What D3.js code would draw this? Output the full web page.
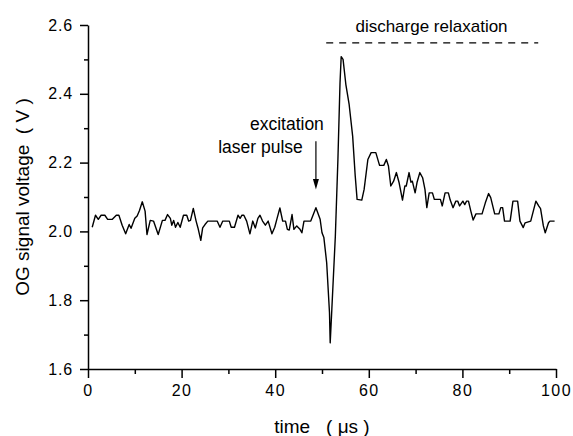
<!DOCTYPE html>
<html>
<head>
<meta charset="utf-8">
<script src="https://cdn.jsdelivr.net/npm/d3@7"></script>
<style>
  body { margin: 0; background: #fff; }
  text { font-family: "Liberation Sans", Arial, sans-serif; fill: #000; }
</style>
</head>
<body>
<div id="draw-area"></div>
<script>
var time = [0.9, 1.6, 2.2, 2.8, 3.6, 4.2, 5.2, 6.05, 6.6, 7.3, 8.05, 8.8, 9.2, 10.0, 10.5, 11.0, 11.6, 12.2, 12.6, 13.3,
	14.0, 15.0, 15.9, 16.45, 17.0, 17.6, 17.9, 18.3, 18.7, 19.2, 19.7, 20.4, 21.1, 21.5, 21.9, 22.5, 23.1, 23.5, 24.1, 24.5,
	25.0, 25.6, 27.6, 28.2, 28.8, 30.2, 30.6, 31.3, 32.05, 32.5, 32.9, 33.3, 33.9, 34.6, 35.2, 35.75, 36.3, 36.75, 37.3, 37.9,
	38.5, 39.3, 39.9, 40.4, 41.0, 41.6, 42.2, 42.6, 43.0, 43.6, 44.0, 44.6, 45.3, 45.7, 46.15, 47.6, 48.7, 49.6, 50.0, 50.4,
	51.0, 51.6, 51.75, 52.1, 52.85, 53.4, 53.85, 54.1, 54.5, 55.1, 55.8, 56.55, 57.1, 57.5, 58.5, 59.0, 59.8, 60.5, 61.5, 62.3,
	63.2, 63.75, 64.2, 64.7, 65.3, 65.9, 66.45, 67.2, 67.7, 68.0, 68.6, 69.0, 69.3, 69.9, 70.3, 70.9, 71.5, 72.0, 72.4, 72.9,
	73.6, 74.0, 75.3, 75.7, 76.3, 77.0, 77.4, 78.0, 78.6, 79.0, 79.4, 80.1, 80.5, 80.9, 81.3, 81.8, 82.3, 82.9, 84.2, 84.9,
	85.6, 86.05, 86.9, 87.8, 88.2, 88.6, 89.0, 90.2, 90.8, 91.8, 92.3, 93.0, 93.4, 94.6, 95.7, 96.3, 96.7, 97.3, 97.7, 98.4,
	98.7, 99.7];
var voltage = [2.012, 2.047, 2.035, 2.047, 2.047, 2.035, 2.035, 2.047, 2.047, 2.018, 1.993, 2.02, 2.009, 2.038, 2.045, 2.061, 2.086, 2.059, 1.991, 2.032,
	2.03, 1.991, 2.032, 2.032, 2.049, 2.038, 2.018, 2.032, 2.012, 2.026, 2.012, 2.047, 2.047, 2.03, 2.032, 2.067, 2.03, 2.01, 1.974, 2.01,
	2.02, 2.03, 2.03, 2.012, 2.03, 2.03, 2.012, 2.012, 2.047, 2.038, 2.047, 2.047, 2.03, 1.993, 2.03, 2.01, 2.038, 2.047, 2.03, 2.018,
	2.03, 1.993, 2.012, 2.038, 2.068, 2.03, 2.03, 2.006, 2.004, 2.049, 2.006, 2.016, 2.006, 1.996, 2.03, 2.03, 2.069, 2.035, 1.996, 1.982,
	1.909, 1.764, 1.676, 1.773, 1.986, 2.209, 2.432, 2.508, 2.5, 2.427, 2.369, 2.277, 2.161, 2.093, 2.091, 2.122, 2.209, 2.229, 2.229, 2.192,
	2.192, 2.209, 2.19, 2.132, 2.146, 2.171, 2.143, 2.091, 2.132, 2.132, 2.171, 2.143, 2.146, 2.112, 2.142, 2.171, 2.156, 2.122, 2.069, 2.112,
	2.112, 2.093, 2.093, 2.074, 2.112, 2.112, 2.091, 2.069, 2.088, 2.088, 2.074, 2.088, 2.078, 2.088, 2.088, 2.059, 2.033, 2.051, 2.051, 2.083,
	2.11, 2.098, 2.051, 2.051, 2.069, 2.069, 2.03, 2.03, 2.088, 2.088, 2.03, 2.011, 2.025, 2.03, 2.088, 2.074, 2.066, 2.016, 1.996, 2.025,
	2.03, 2.03];

var xTicks = [0, 20, 40, 60, 80, 100];
var yTicks = [1.6, 1.8, 2.0, 2.2, 2.4, 2.6];

var svgw = 573, svgh = 436;
var margin = {top: 25, right: 17, bottom: 67, left: 88};
var width = svgw - margin.left - margin.right;
var height = svgh - margin.top - margin.bottom;

var svg = d3.select("#draw-area").append("svg")
		.attr("width", svgw)
		.attr("height", svgh);

var g = svg.append("g")
		.attr("transform", "translate(" + margin.left + "," + margin.top + ")");

var x = d3.scaleLinear().domain([0, 100]).range([0, width]),
	y = d3.scaleLinear().domain([1.6, 2.6]).range([height, 0]);

// minor ticks first, then the labelled ones on top
g.append("g")
	.attr("transform", "translate(0," + height + ")")
	.call(d3.axisBottom(x).tickValues(d3.range(10, 100, 20)).tickSize(5).tickFormat(""))
	.call(function(s){ s.select(".domain").remove(); });
g.append("g")
	.call(d3.axisLeft(y).tickValues(d3.range(1.7, 2.6, 0.2)).tickSize(4).tickFormat(""))
	.call(function(s){ s.select(".domain").remove(); });

var xAxis = g.append("g")
	.attr("transform", "translate(0," + height + ")")
	.call(d3.axisBottom(x).tickValues(xTicks).tickSize(9).tickPadding(7).tickSizeOuter(0).tickFormat(d3.format("d")));
xAxis.selectAll("text")
	.style("font-size", "16px")
	.style("letter-spacing", "1.5px");

var yAxis = g.append("g")
	.call(d3.axisLeft(y).tickValues(yTicks).tickSize(8).tickPadding(7).tickSizeOuter(0).tickFormat(d3.format(".1f")));
yAxis.selectAll("text")
	.style("font-size", "16px")
	.style("letter-spacing", "0.8px");

g.selectAll(".domain, .tick line")
	.attr("stroke", "#000")
	.attr("stroke-width", 1.5);

var valueline = d3.line()
	.x(function(d, i){ return x(time[i]); })
	.y(function(d){ return y(d); });

g.append("path")
	.datum(voltage)
	.attr("d", valueline)
	.style("fill", "none")
	.style("stroke", "#000")
	.style("stroke-width", 1.4)
	.style("stroke-linejoin", "round");

// annotations
g.append("line")
	.attr("x1", x(50.9)).attr("x2", x(96.2))
	.attr("y1", y(2.548)).attr("y2", y(2.548))
	.attr("stroke", "#000")
	.attr("stroke-width", 1.2)
	.attr("stroke-dasharray", "7,6");

g.append("text")
	.attr("x", x(73.4)).attr("y", y(2.579))
	.attr("text-anchor", "middle")
	.style("font-size", "17px")
	.text("discharge relaxation");

g.append("text")
	.attr("x", x(50.4)).attr("y", y(2.294))
	.attr("text-anchor", "end")
	.style("font-size", "17.5px")
	.text("excitation");

g.append("text")
	.attr("x", x(45.9)).attr("y", y(2.229))
	.attr("text-anchor", "end")
	.style("font-size", "17.5px")
	.text("laser pulse");

g.append("line")
	.attr("x1", x(48.7)).attr("x2", x(48.7))
	.attr("y1", y(2.262)).attr("y2", y(2.15))
	.attr("stroke", "#000")
	.attr("stroke-width", 1.2);

g.append("path")
	.attr("d", "M" + (x(48.7) - 3) + "," + y(2.152) + "L" + (x(48.7) + 3) + "," + y(2.152) + "L" + x(48.7) + "," + y(2.122) + "Z")
	.attr("fill", "#000");

// axis titles
svg.append("text")
	.attr("x", margin.left + width / 2)
	.attr("y", 433)
	.attr("text-anchor", "middle")
	.style("font-size", "19px")
	.style("white-space", "pre")
	.text("time   ( \u03bcs )");

svg.append("text")
	.attr("transform", "translate(29," + (margin.top + height / 2) + ") rotate(-90)")
	.attr("text-anchor", "middle")
	.style("font-size", "19px")
	.style("white-space", "pre")
	.text("OG signal voltage  ( V )");
</script>
</body>
</html>
